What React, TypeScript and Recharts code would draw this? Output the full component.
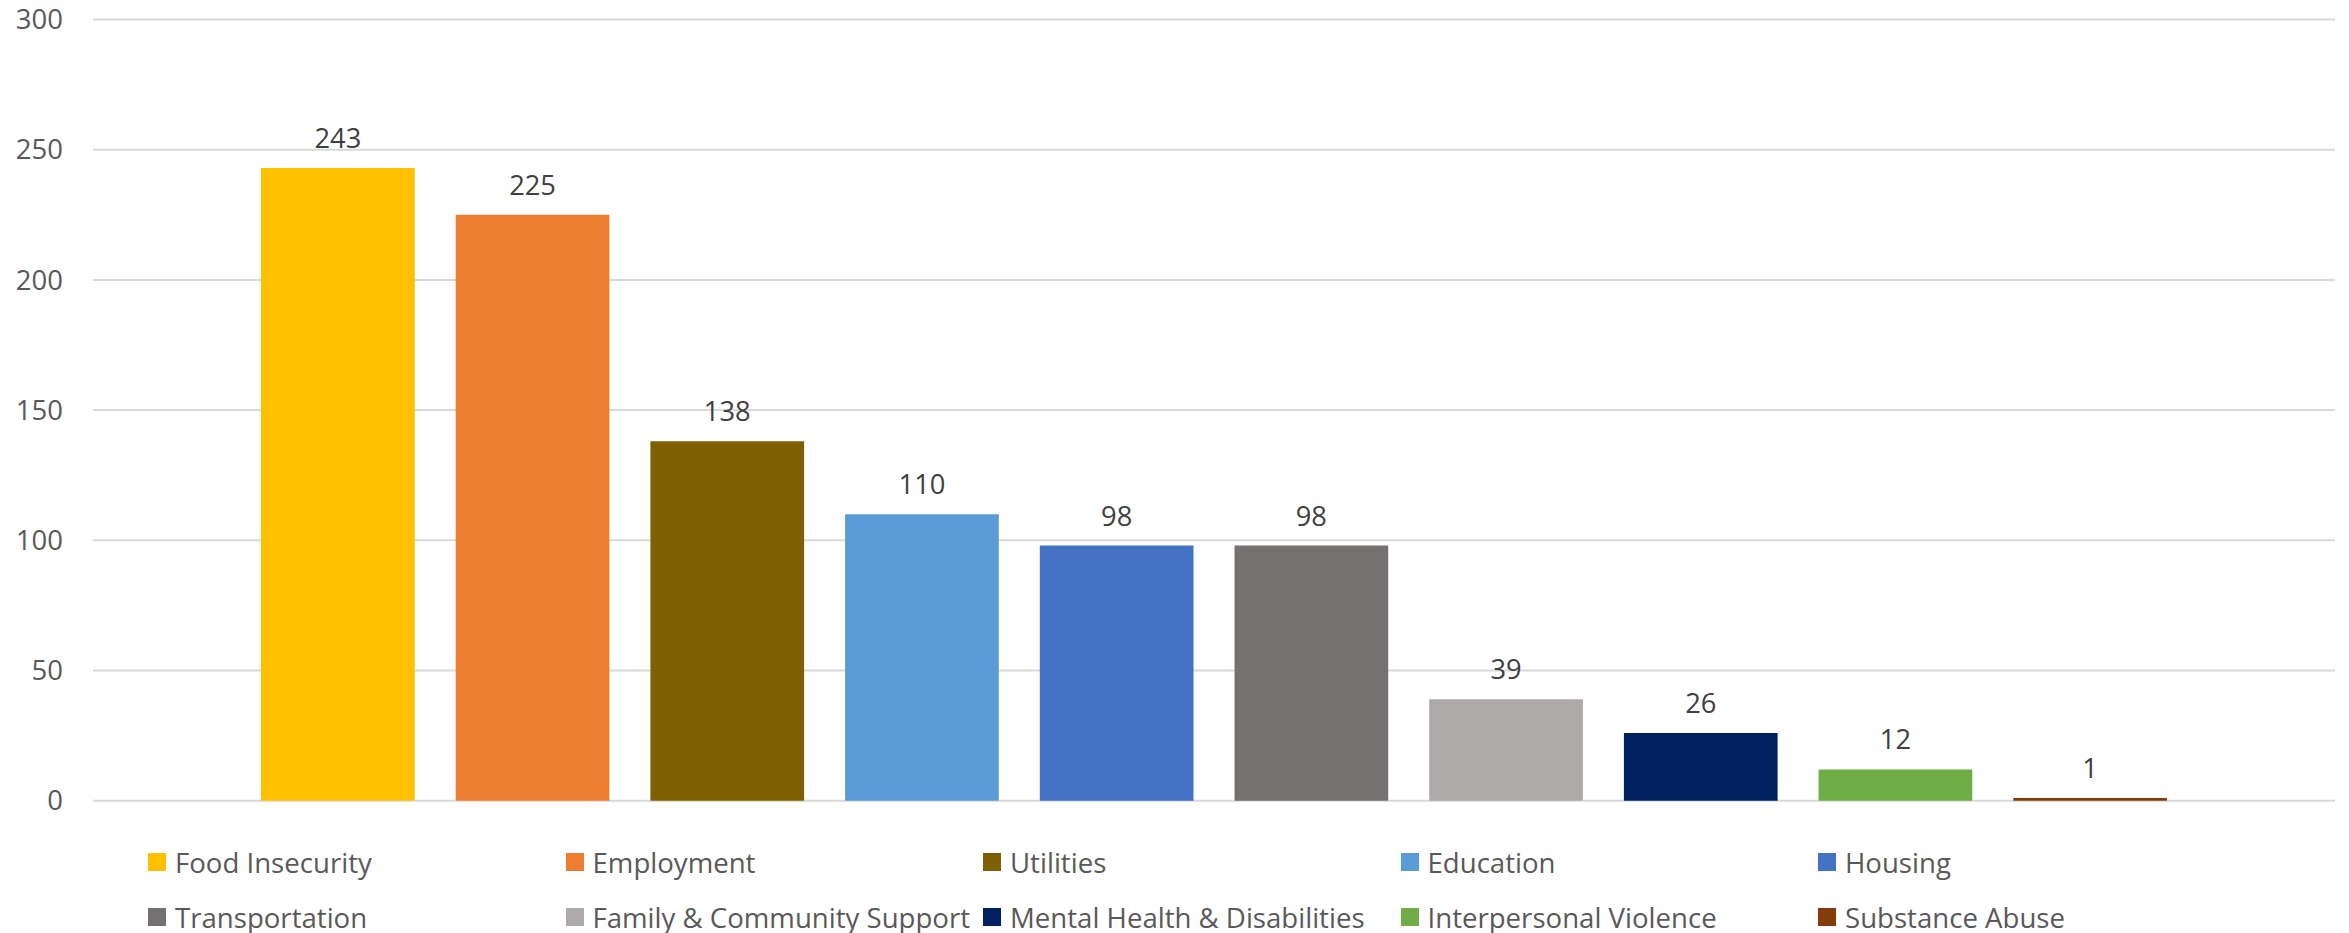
import React from 'react';
import { BarChart, Bar, XAxis, YAxis, CartesianGrid, Legend, LabelList } from 'recharts';

const seriesNames = [
  'Food Insecurity',
  'Employment',
  'Utilities',
  'Education',
  'Housing',
  'Transportation',
  'Family & Community Support',
  'Mental Health & Disabilities',
  'Interpersonal Violence',
  'Substance Abuse',
];
const seriesValues = [243, 225, 138, 110, 98, 98, 39, 26, 12, 1];
const seriesColors = [
  '#FFC000',
  '#ED7D31',
  '#7F6000',
  '#5B9BD5',
  '#4472C4',
  '#767171',
  '#AEAAAA',
  '#002060',
  '#70AD47',
  '#843C0C',
];
const yTicks = [0, 50, 100, 150, 200, 250, 300];

const keys = seriesNames.map((_, i) => `s${i}`);
const row: Record<string, any> = { name: 'All' };
keys.forEach((k, i) => {
  row[k] = seriesValues[i];
});
const data = [row];

const FONT = '"Open Sans", "Noto Sans", sans-serif';

const renderLegend = () => (
  <div style={{ position: 'relative', width: 2349, height: 0 }}>
    {seriesNames.map((name, i) => {
      const col = i % 5;
      const r = Math.floor(i / 5);
      return (
        <div
          key={name}
          style={{
            position: 'absolute',
            left: 148 + col * 417.5,
            top: r * 54.5,
            height: 30,
            display: 'flex',
            alignItems: 'center',
            whiteSpace: 'nowrap',
            fontFamily: FONT,
            fontSize: 27.6,
            color: '#595959',
          }}
        >
          <span style={{ display: 'inline-block', width: 18, height: 18, background: seriesColors[i], marginRight: 9 }} />
          <span>{name}</span>
        </div>
      );
    })}
  </div>
);

export default function App() {
  return (
    <div style={{ position: 'absolute', left: 0, top: 0, width: 2349, height: 933, background: '#fff' }}>
      <BarChart
        width={2349}
        height={933}
        data={data}
        margin={{ top: 19.5, right: 14, bottom: 132.3, left: 0 }}
        barSize={153.7}
        barGap={41}
      >
        <CartesianGrid vertical={false} stroke="#D9D9D9" strokeWidth={2} />
        <XAxis dataKey="name" hide />
        <YAxis
          width={93}
          domain={[0, 300]}
          ticks={yTicks}
          axisLine={false}
          tickLine={false}
          tickSize={0}
          tickMargin={30}
          tick={{ fill: '#595959', fontSize: 27.5, fontFamily: FONT }}
        />
        <Legend
          content={renderLegend}
          wrapperStyle={{ top: 847, left: 0, width: 2349, height: 0 }}
        />
        {keys.map((k, i) => (
          <Bar key={k} dataKey={k} name={seriesNames[i]} fill={seriesColors[i]} isAnimationActive={false}>
            <LabelList
              dataKey={k}
              position="top"
              offset={20}
              fill="#404040"
              fontSize={27.3}
              fontFamily={FONT}
            />
          </Bar>
        ))}
      </BarChart>
    </div>
  );
}
